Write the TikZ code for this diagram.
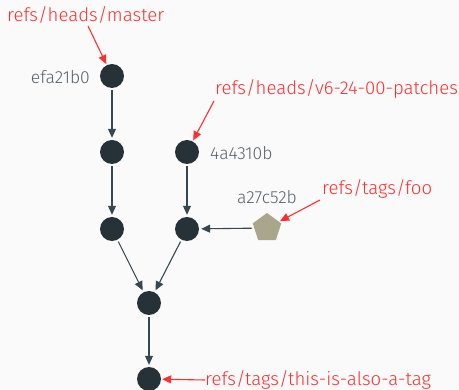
\documentclass[tikz,border=0pt]{standalone}
\usepackage{fontspec}
\setmainfont{Fira Sans Light}
\usetikzlibrary{arrows.meta,shapes.geometric}
\definecolor{bgc}{HTML}{FAFAFA}
\definecolor{commitc}{HTML}{263238}
\definecolor{edgec}{HTML}{37474F}
\definecolor{tagc}{HTML}{A9A68B}
\definecolor{refc}{HTML}{FF2E2E}
\definecolor{hashc}{HTML}{56626A}
\tikzset{
  commit/.style={circle,fill=commitc,draw=none,minimum size=24pt,inner sep=0pt},
  tagobj/.style={regular polygon,regular polygon sides=5,fill=tagc,draw=none,minimum size=30pt,inner sep=0pt},
  hashlbl/.style={text=hashc,font=\fontsize{17.5}{20}\selectfont,inner sep=0pt},
  reflbl/.style={text=refc,font=\fontsize{18.6}{22}\selectfont,inner sep=0pt},
  parent/.style={draw=edgec,line width=1.1pt,-{Triangle[length=9pt,width=8pt]},shorten <=2pt,shorten >=2pt},
  refptr/.style={draw=refc,line width=1.1pt,-{Triangle[length=9pt,width=8pt]},shorten >=1pt}
}
\begin{document}
\begin{tikzpicture}[x=1pt,y=-1pt]
  \fill[bgc] (0,0) rectangle (459,390);
  \useasboundingbox (0,0) rectangle (459,390);
  % commits
  \node[commit] (m)  at (112,76) {};
  \node[commit] (a1) at (112,152) {};
  \node[commit] (b1) at (187,152) {};
  \node[commit] (a2) at (112,229) {};
  \node[commit] (b2) at (187,229) {};
  \node[tagobj] (t)  at (267,228) {};
  \node[commit] (mg) at (149,303) {};
  \node[commit] (r)  at (149,379) {};
  % hashes
  \node[hashlbl,anchor=east] (hm) at (90,77) {efa21b0};
  \node[hashlbl,anchor=west] (hb) at (210,153) {4a4310b};
  \node[hashlbl,anchor=center] (ht) at (267,197) {a27c52b};
  % refs
  \node[reflbl,anchor=west] (rm) at (7,15) {refs/heads/master};
  \node[reflbl,anchor=west] (rb) at (215,89) {refs/heads/v6-24-00-patches};
  \node[reflbl,anchor=west] (rt) at (322,189) {refs/tags/foo};
  \node[reflbl,anchor=west] (rr) at (205,380) {refs/tags/this-is-also-a-tag};
  % parent links
  \draw[parent] (m) -- (a1);
  \draw[parent] (a1) -- (a2);
  \draw[parent] (b1) -- (b2);
  \draw[parent] (a2) -- (mg);
  \draw[parent] (b2) -- (mg);
  \draw[parent] (mg) -- (r);
  \draw[parent] (t) -- (b2);
  % ref pointers
  \coordinate (pm) at (88,26);
  \coordinate (pb) at (214,101);
  \coordinate (pt) at (320,200);
  \draw[refptr] (pm) -- (m);
  \draw[refptr] (pb) -- (b1);
  \draw[refptr] (pt) -- (t);
  \draw[refptr] (rr.west) -- (r);
\end{tikzpicture}
\end{document}
